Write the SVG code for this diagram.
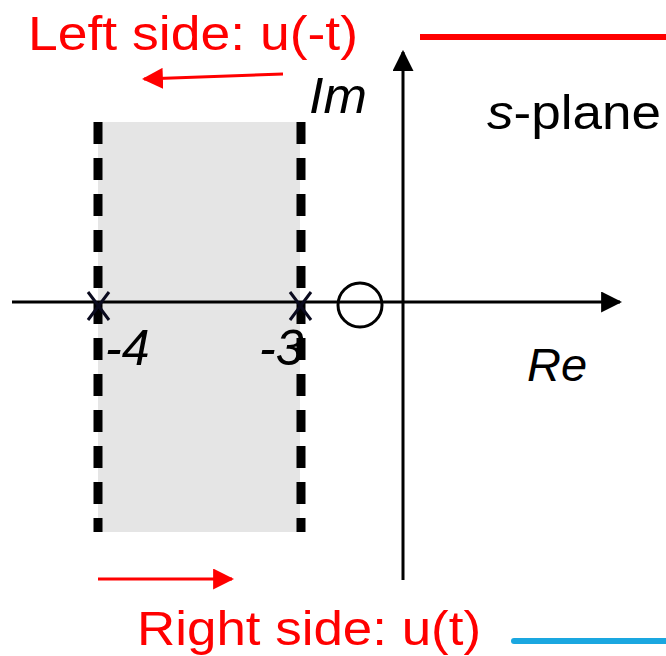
<svg xmlns="http://www.w3.org/2000/svg" width="666" height="656" viewBox="0 0 666 656">
<style>
.lbl{font-family:"Liberation Sans",Arial,sans-serif;}
.red{fill:#ff0000;}
.it{font-style:italic;fill:#000;}
.ax{stroke:#000;stroke-width:3;fill:none;}
.dash{stroke:#000;stroke-width:9;stroke-dasharray:22 14;fill:none;}
.mark{stroke:#0a0a1e;stroke-width:3;fill:none;}
</style>
<defs>
<marker id="ah" viewBox="0 0 10 10" refX="9" refY="5" markerWidth="7" markerHeight="7" markerUnits="strokeWidth" orient="auto">
<path d="M0,0 L10,5 L0,10 Z" fill="#000"/>
</marker>
<marker id="rah" viewBox="0 0 10 10" refX="9" refY="5" markerWidth="7" markerHeight="7" markerUnits="strokeWidth" orient="auto">
<path d="M0,0 L10,5 L0,10 Z" fill="#ff0000"/>
</marker>
</defs>
<g id="region">
<rect x="98" y="122" width="202" height="410" fill="#e5e5e5"/>
<line class="dash" x1="98" y1="122" x2="98" y2="532"/>
<line class="dash" x1="301" y1="122" x2="301" y2="532"/>
</g>
<g id="connectors">
<line class="ax" x1="12" y1="302" x2="620" y2="302" marker-end="url(#ah)"/>
<line class="ax" x1="403" y1="580" x2="403" y2="52" marker-end="url(#ah)"/>
<line x1="283" y1="74" x2="144" y2="79" stroke="#ff0000" stroke-width="3" marker-end="url(#rah)"/>
<line x1="98" y1="579" x2="232" y2="579" stroke="#ff0000" stroke-width="3" marker-end="url(#rah)"/>
<line x1="420" y1="37" x2="666" y2="37" stroke="#ff0000" stroke-width="6"/>
<line x1="514" y1="641" x2="666" y2="641" stroke="#1aa7e0" stroke-width="6" stroke-linecap="round"/>
</g>
<g id="pole-4">
<path class="mark" d="M88,292 L109,320 M109,292 L88,320"/>
<text class="lbl it" x="105" y="365" font-size="50">-4</text>
</g>
<g id="pole-3">
<path class="mark" d="M290,292 L311,320 M311,292 L290,320"/>
<text class="lbl it" x="259" y="365" font-size="50">-3</text>
</g>
<g id="zero">
<circle cx="360" cy="305" r="22" class="ax"/>
</g>
<g id="labels">
<text class="lbl red" x="28" y="50" font-size="48" textLength="330" lengthAdjust="spacingAndGlyphs">Left side: u(-t)</text>
<text class="lbl red" x="137" y="645" font-size="49" textLength="344" lengthAdjust="spacingAndGlyphs">Right side: u(t)</text>
<text class="lbl it" x="309" y="113" font-size="50" textLength="58" lengthAdjust="spacingAndGlyphs">Im</text>
<text class="lbl it" x="527" y="381" font-size="47">Re</text>
<text class="lbl" x="487" y="129" font-size="48" fill="#000" textLength="174" lengthAdjust="spacingAndGlyphs"><tspan font-style="italic">s</tspan>-plane</text>
</g>
</svg>
